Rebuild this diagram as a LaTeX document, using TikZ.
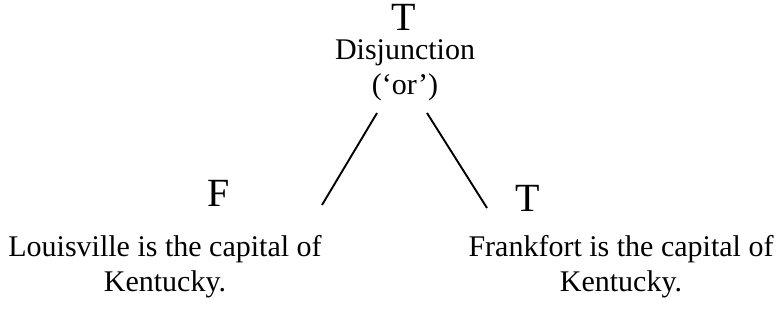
\documentclass[tikz,border=0pt]{standalone}
\usepackage{fontspec}
\setmainfont{Liberation Serif}
\begin{document}
\begin{tikzpicture}[x=1pt,y=-1pt,
  big/.style={inner sep=0pt,anchor=base,font=\fontsize{40}{40}\selectfont},
  txt/.style={inner sep=0pt,anchor=base,align=center,font=\fontsize{30}{35}\selectfont},
  conn/.style={line width=1.9pt}]
\useasboundingbox (0,0) rectangle (779,335);
\node[big] (top) at (404,30) {T};
\node[txt] (disj) at (405,94) {Disjunction\\(`or')};
\node[big] (lf) at (219,206) {F};
\node[big] (rt) at (528,211) {T};
\node[txt] (ltxt) at (165,291) {Louisville is the capital of\\Kentucky.};
\node[txt] (rtxt) at (621,291) {Frankfort is the capital of\\Kentucky.};
\coordinate (l1) at (377,113);
\coordinate (l2) at (322,205);
\coordinate (r1) at (427,113);
\coordinate (r2) at (487,208);
\draw[conn] (l1) -- (l2);
\draw[conn] (r1) -- (r2);
\end{tikzpicture}
\end{document}
